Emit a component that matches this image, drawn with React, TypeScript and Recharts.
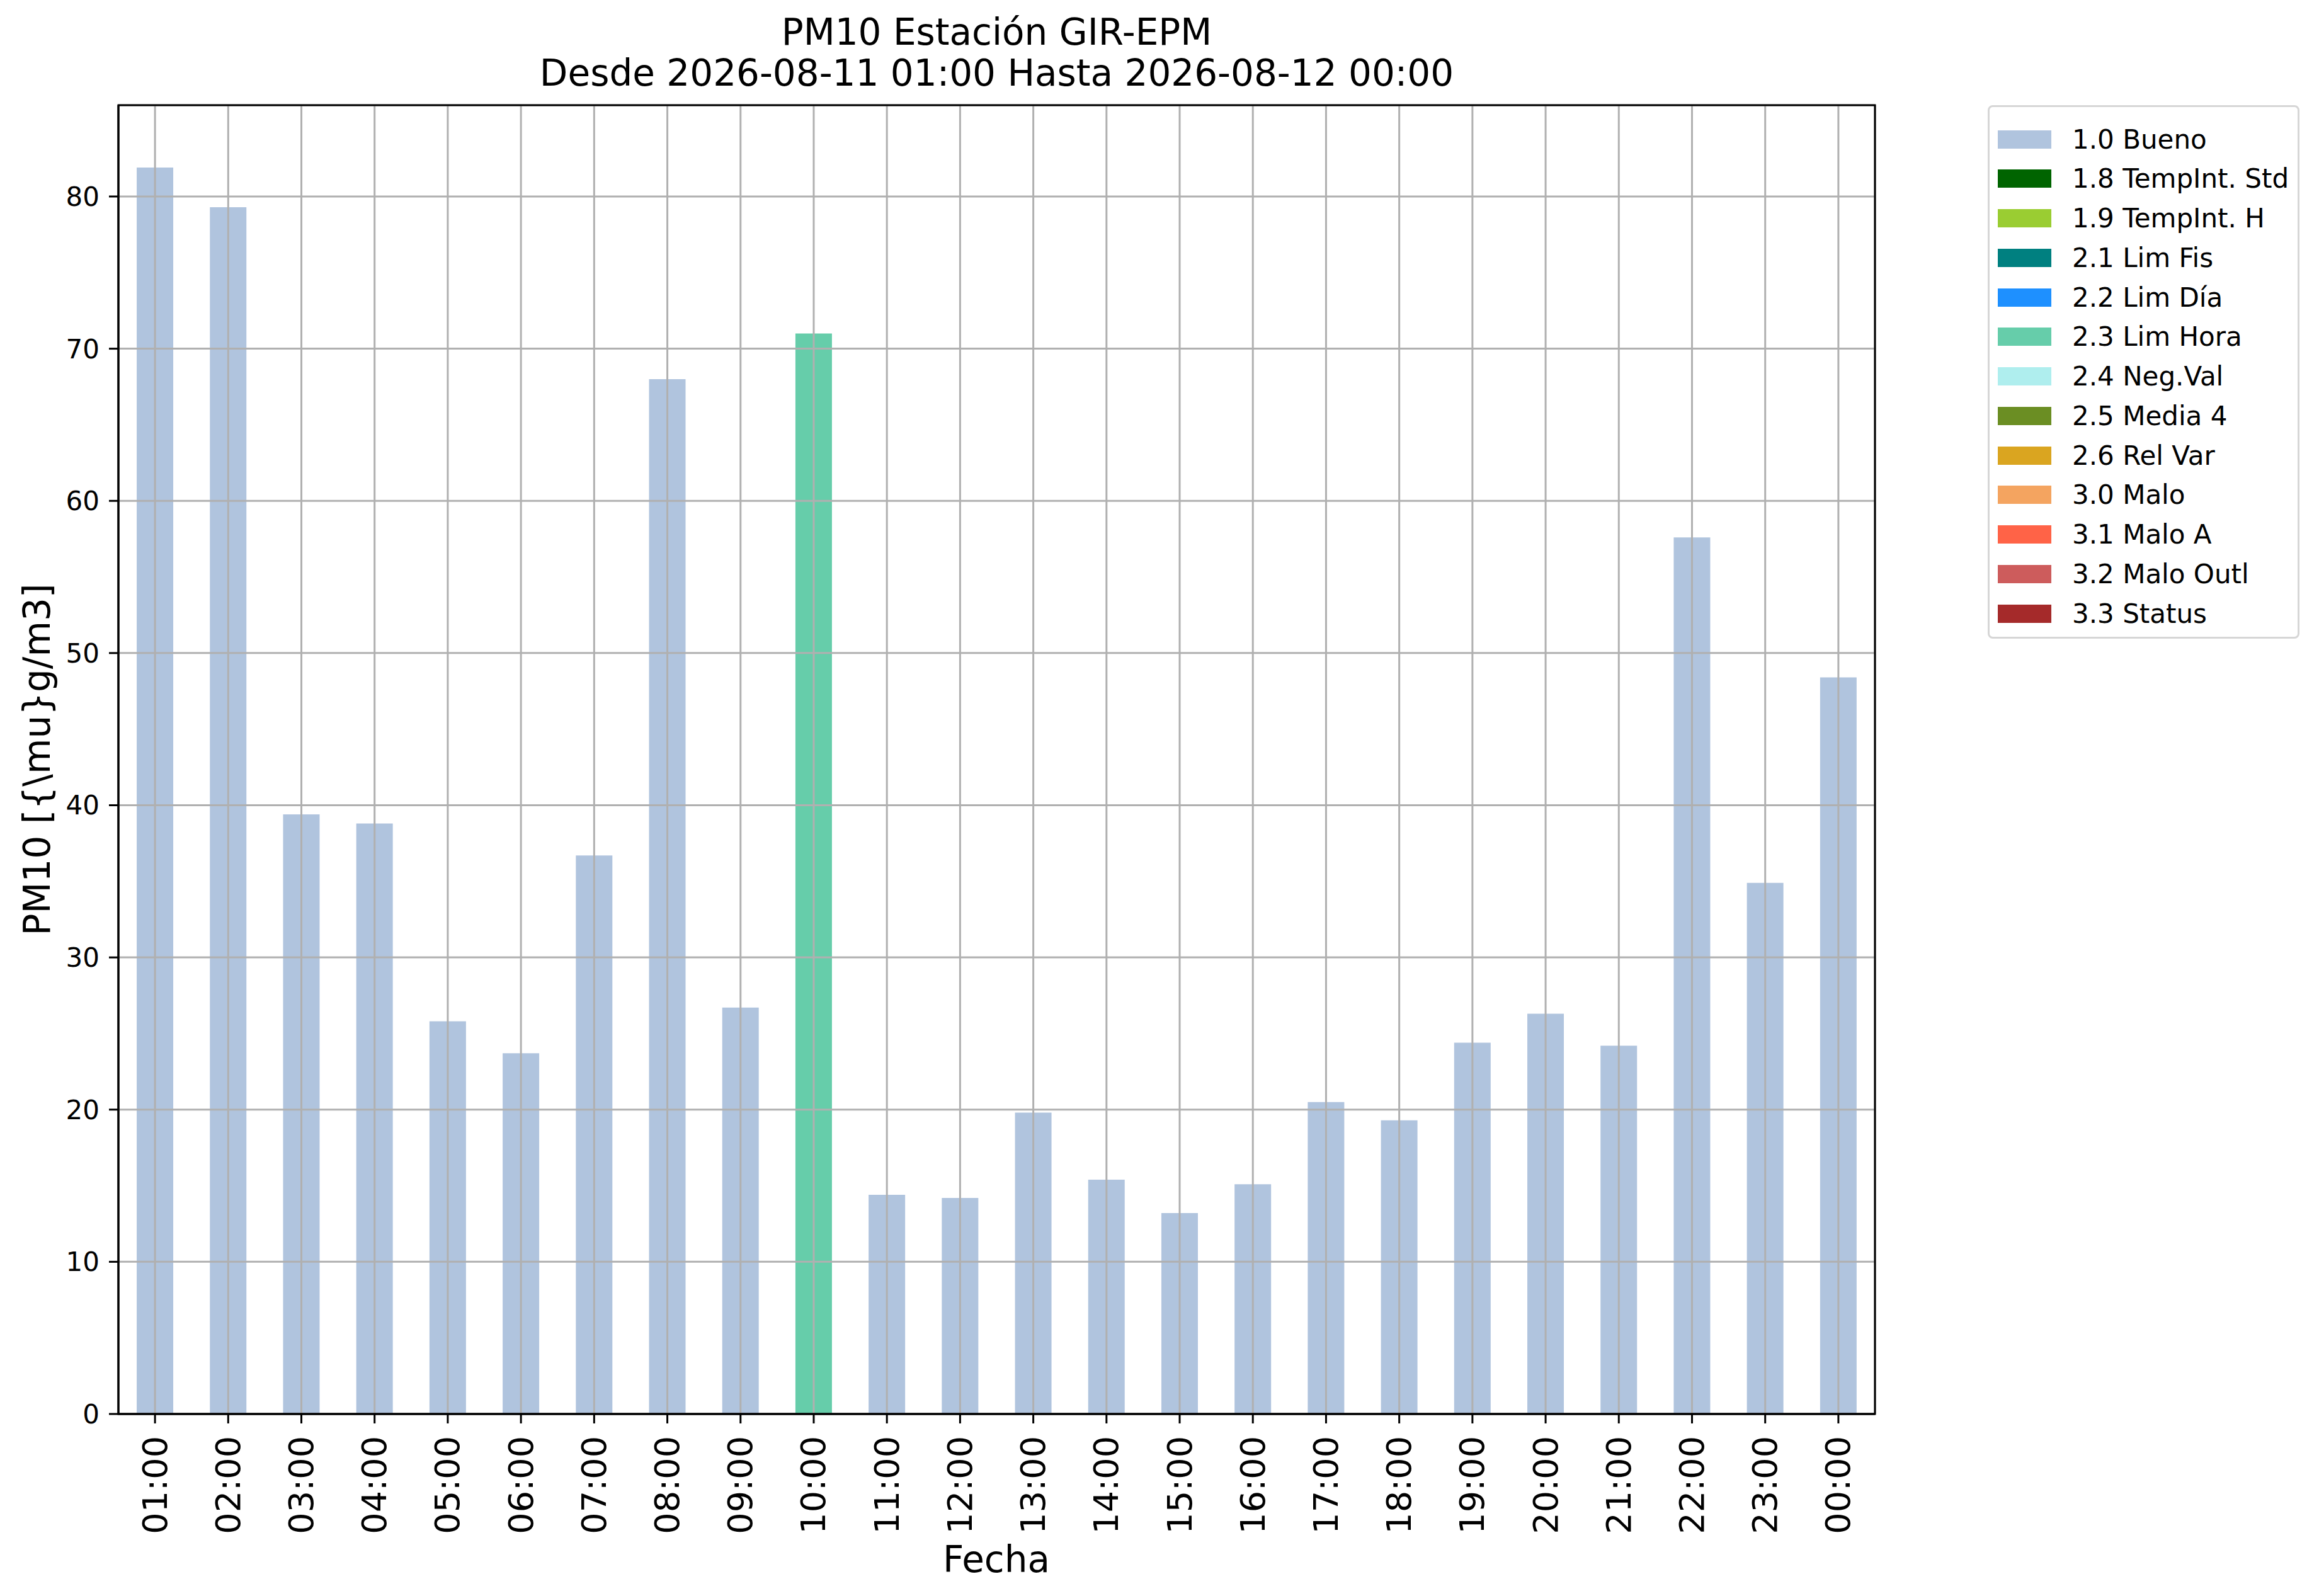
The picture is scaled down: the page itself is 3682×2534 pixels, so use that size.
import React from 'react';
import { BarChart, Bar, XAxis, YAxis, CartesianGrid, Legend, ReferenceArea } from 'recharts';

const W = 3682;
const H = 2534;
const FONT = '"DejaVu Sans", sans-serif';

const hours = [
  '01:00', '02:00', '03:00', '04:00', '05:00', '06:00', '07:00', '08:00',
  '09:00', '10:00', '11:00', '12:00', '13:00', '14:00', '15:00', '16:00',
  '17:00', '18:00', '19:00', '20:00', '21:00', '22:00', '23:00', '00:00',
];
const pm10 = [
  81.9, 79.3, 39.4, 38.8, 25.8, 23.7, 36.7, 68.0, 26.7, 71.0, 14.4, 14.2,
  19.8, 15.4, 13.2, 15.1, 20.5, 19.3, 24.4, 26.3, 24.2, 57.6, 34.9, 48.4,
];
// validation flag of each hour
const hourFlags = [
  '1.0 Bueno', '1.0 Bueno', '1.0 Bueno', '1.0 Bueno', '1.0 Bueno', '1.0 Bueno',
  '1.0 Bueno', '1.0 Bueno', '1.0 Bueno', '2.3 Lim Hora', '1.0 Bueno', '1.0 Bueno',
  '1.0 Bueno', '1.0 Bueno', '1.0 Bueno', '1.0 Bueno', '1.0 Bueno', '1.0 Bueno',
  '1.0 Bueno', '1.0 Bueno', '1.0 Bueno', '1.0 Bueno', '1.0 Bueno', '1.0 Bueno',
];

const flagNames = [
  '1.0 Bueno', '1.8 TempInt. Std', '1.9 TempInt. H', '2.1 Lim Fis', '2.2 Lim Día',
  '2.3 Lim Hora', '2.4 Neg.Val', '2.5 Media 4', '2.6 Rel Var', '3.0 Malo',
  '3.1 Malo A', '3.2 Malo Outl', '3.3 Status',
];
const flagColors = [
  '#b0c4de', '#006400', '#9acd32', '#008080', '#1e90ff', '#66cdaa', '#afeeee',
  '#6b8e23', '#daa520', '#f4a460', '#ff6347', '#cd5c5c', '#a52a2a',
];

const yTicks = [0, 10, 20, 30, 40, 50, 60, 70, 80];
const yMax = 86;

const data = hours.map((h, i) => {
  const row: Record<string, string | number> = { hour: h };
  flagNames.forEach((f) => { row[f] = hourFlags[i] === f ? pm10[i] : 0; });
  return row;
});

function HourTick({ x, y, payload }: any) {
  return (
    <text x={x} y={y} transform={`rotate(-90 ${x} ${y})`} textAnchor="end"
      dominantBaseline="central" fontSize={54} fontFamily={FONT} fill="#000">
      {payload.value}
    </text>
  );
}

function FlagLegend() {
  return (
    <div style={{
      position: 'relative', width: 495, height: 847, boxSizing: 'border-box',
      border: '3px solid #d6d6d6', borderRadius: 8, background: '#fff', fontFamily: FONT,
    }}>
      {flagNames.map((f, i) => (
        <div key={f} style={{ position: 'absolute', left: 0, top: 51 + 62.75 * i - 30, height: 60, display: 'flex', alignItems: 'center' }}>
          <div style={{ marginLeft: 13, width: 85, height: 29, background: flagColors[i] }} />
          <span style={{ marginLeft: 33, fontSize: 42, color: '#000', whiteSpace: 'nowrap' }}>{f}</span>
        </div>
      ))}
    </div>
  );
}

export default function App() {
  const axisStroke = { stroke: '#000', strokeWidth: 3 };
  return (
    <div style={{ position: 'absolute', left: 0, top: 0, width: W, height: H, background: '#fff', fontFamily: FONT }}>
      <div style={{ position: 'absolute', left: 188, top: 19, width: 2789, textAlign: 'center', fontSize: 58, lineHeight: '65px', color: '#000' }}>
        <div>PM10 Estación GIR-EPM</div>
        <div>Desde 2026-08-11 01:00 Hasta 2026-08-12 00:00</div>
      </div>
      <div style={{ position: 'absolute', left: 59, top: 1206, transform: 'translate(-50%, -50%) rotate(-90deg)', fontSize: 58, whiteSpace: 'nowrap', color: '#000' }}>
        PM10 [{'{\\mu}'}g/m3]
      </div>
      <div style={{ position: 'absolute', left: 1582, top: 2476, transform: 'translate(-50%, -50%)', fontSize: 58, whiteSpace: 'nowrap', color: '#000' }}>
        Fecha
      </div>
      <BarChart width={W} height={H} data={data} barCategoryGap="25%"
        margin={{ top: 167, right: 705, left: 38, bottom: 89 }}
        style={{ position: 'absolute', left: 0, top: 0 }}>
        {flagNames.map((f, i) => (
          <Bar key={f} dataKey={f} stackId="flags" fill={flagColors[i]} isAnimationActive={false} />
        ))}
        <CartesianGrid stroke="#b0b0b0" strokeWidth={3} zIndex={1000} />
        <XAxis dataKey="hour" height={200} interval={0} tickSize={15} tickMargin={20} zIndex={1500}
          tickLine={axisStroke} axisLine={axisStroke} tick={<HourTick />} />
        <YAxis width={150} domain={[0, yMax]} ticks={yTicks} tickSize={15} tickMargin={15} zIndex={1500}
          tickLine={axisStroke} axisLine={axisStroke}
          tick={{ fontSize: 42, fill: '#000', fontFamily: FONT }} />
        <ReferenceArea y1={0} y2={yMax} fill="none" fillOpacity={0} stroke="#000" strokeWidth={3}
          ifOverflow="visible" zIndex={1600} />
        <Legend layout="horizontal" verticalAlign="middle" align="center"
          wrapperStyle={{ left: 3156, top: 167, width: 495, height: 847 }}
          content={() => <FlagLegend />} />
      </BarChart>
    </div>
  );
}
